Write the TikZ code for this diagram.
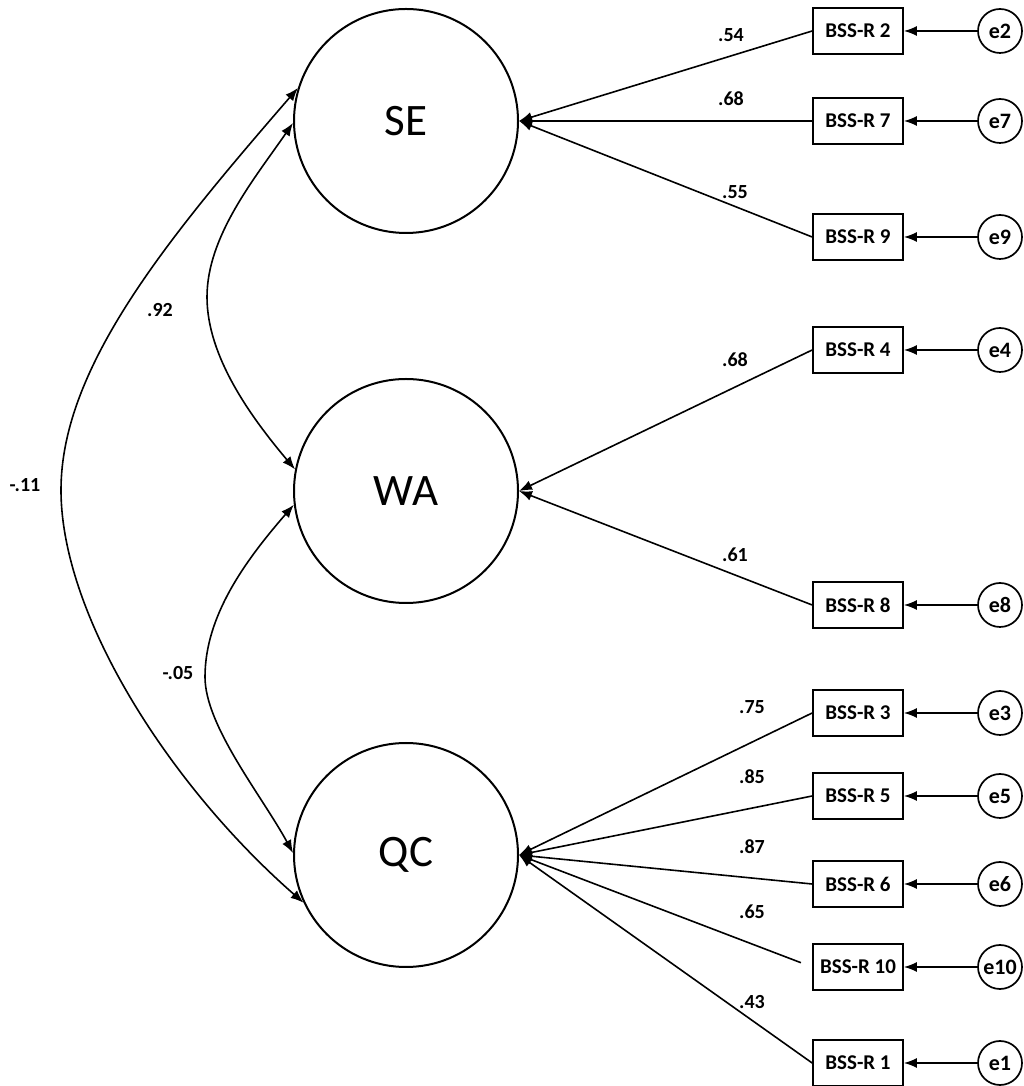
\documentclass[tikz,border=0pt]{standalone}
\usepackage{fontspec}
\setmainfont{Carlito}
\usetikzlibrary{arrows.meta}
\begin{document}
\begin{tikzpicture}[x=1pt,y=1pt]
    \tikzset{font={\fontsize{20pt}{22}\selectfont\bfseries},
      latent/.style={draw,circle,line width=2pt,minimum size=224pt,inner sep=0pt,
        font={\fontsize{45pt}{50}\selectfont}},
      item/.style={draw,rectangle,line width=1.7pt,minimum width=90pt,minimum height=46pt,
        inner sep=0pt,font={\fontsize{21pt}{24}\selectfont\bfseries}},
      err/.style={draw,circle,line width=1.7pt,minimum size=44pt,inner sep=0pt,
        font={\fontsize{22pt}{24}\selectfont\bfseries}},
      arr/.style={-{Latex[length=13pt,width=10pt]},line width=1.6pt},
      cov/.style={{Latex[length=13pt,width=10pt]}-{Latex[length=13pt,width=10pt]},line width=1.6pt}}
    \useasboundingbox (0,0) rectangle (1024,1086);
    % latent factors
    \node[latent] (se) at (406,965) {SE};
    \node[latent] (wa) at (406,595) {WA};
    \node[latent] (qc) at (406,231) {QC};
    % items
    \node[item] (b2) at (858,1055) {BSS-R 2};
    \node[item] (b7) at (858,965) {BSS-R 7};
    \node[item] (b9) at (858,849) {BSS-R 9};
    \node[item] (b4) at (858,736) {BSS-R 4};
    \node[item] (b8) at (858,481) {BSS-R 8};
    \node[item] (b3) at (858,373) {BSS-R 3};
    \node[item] (b5) at (858,290) {BSS-R 5};
    \node[item] (b6) at (858,202) {BSS-R 6};
    \node[item] (b10) at (858,119) {BSS-R 10};
    \node[item] (b1) at (858,23) {BSS-R 1};
    % errors
    \node[err] (e2) at (1000,1055) {e2};
    \node[err] (e7) at (1000,965) {e7};
    \node[err] (e9) at (1000,849) {e9};
    \node[err] (e4) at (1000,736) {e4};
    \node[err] (e8) at (1000,481) {e8};
    \node[err] (e3) at (1000,373) {e3};
    \node[err] (e5) at (1000,290) {e5};
    \node[err] (e6) at (1000,202) {e6};
    \node[err] (e10) at (1000,119) {e10};
    \node[err] (e1) at (1000,23) {e1};
    \draw[arr] (e2)--(b2);
    \draw[arr] (e7)--(b7);
    \draw[arr] (e9)--(b9);
    \draw[arr] (e4)--(b4);
    \draw[arr] (e8)--(b8);
    \draw[arr] (e3)--(b3);
    \draw[arr] (e5)--(b5);
    \draw[arr] (e6)--(b6);
    \draw[arr] (e10)--(b10);
    \draw[arr] (e1)--(b1);
    % loadings
    \draw[arr] (b2.west)--(se.east);
    \draw[arr] (b7.west)--(se.east);
    \draw[arr] (b9.west)--(se.east);
    \draw[arr] (b4.west)--(wa.east);
    \draw[arr] (b8.west)--(wa.east);
    \draw[arr] (b3.west)--(qc.east);
    \draw[arr] (b5.west)--(qc.east);
    \draw[arr] (b6.west)--(qc.east);
    \draw[arr,shorten <=12pt] (b10.west)--(qc.east);
    \draw[arr] (b1.west)--(qc.east);
    \node (l2) at (731,1051) {.54};
    \node (l7) at (731,987) {.68};
    \node (l9) at (735,894) {.55};
    \node (l4) at (735,726) {.68};
    \node (l8) at (735,531) {.61};
    \node (l3) at (752,379) {.75};
    \node (l5) at (752,309) {.85};
    \node (l6) at (752,239) {.87};
    \node (l10) at (752,174) {.65};
    \node (l1) at (752,84) {.43};
    % correlations
    \draw[cov] (se.181) .. controls (255,908) and (207,850) .. (207,789)
      .. controls (207,730) and (250,670) .. (wa.169);
    \draw[cov] (wa.187) .. controls (245,525) and (205,470) .. (205,409)
      .. controls (205,360) and (262,290) .. (qc.179);
    \draw[cov] (se.163) .. controls (170,850) and (61,720) .. (61,596)
      .. controls (61,470) and (170,300) .. (qc.205);
    \node (r1) at (160,776) {.92};
    \node (r2) at (178,413) {-.05};
    \node (r3) at (25,601) {-.11};
\end{tikzpicture}
\end{document}
